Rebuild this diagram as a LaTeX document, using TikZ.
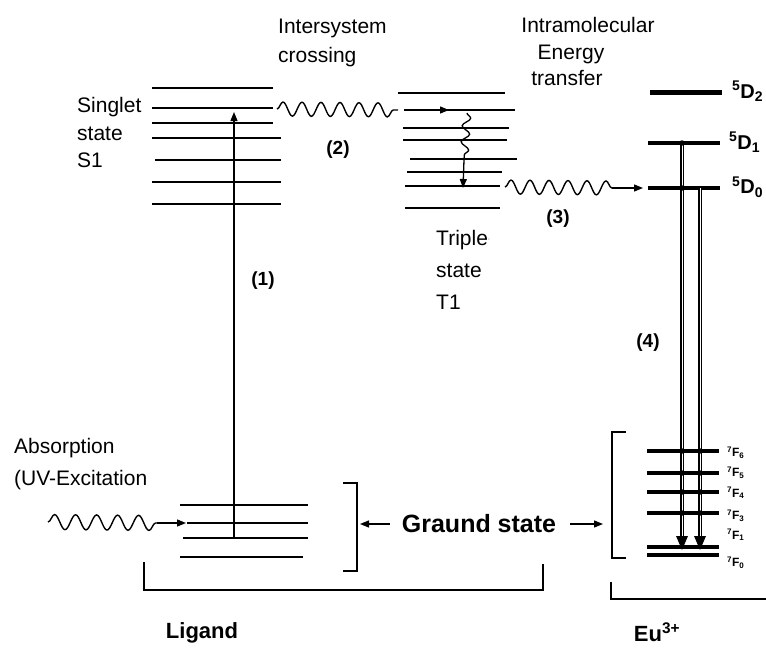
\documentclass[tikz,border=0pt]{standalone}
\usepackage{fontspec}
\setmainfont{Liberation Sans}
\usetikzlibrary{decorations.pathmorphing,arrows.meta}
\begin{document}
\begin{tikzpicture}[x=1pt,y=-1pt,
 lvl/.style={line width=1.6pt},
 eulvl/.style={line width=3.5pt},
 wave/.style={decorate,decoration={snake,amplitude=7pt,segment length=19pt},line width=1.4pt},
 vwave/.style={decorate,decoration={snake,amplitude=4pt,segment length=16pt},line width=1.3pt},
 arr/.style={line width=1.3pt,-{Triangle[length=9pt,width=7pt]}},
 lbl/.style={font=\fontsize{21}{24}\selectfont,inner sep=0,anchor=base west},
 blbl/.style={font=\bfseries\fontsize{19}{22}\selectfont,inner sep=0},
 dlbl/.style={font=\bfseries\fontsize{20}{24}\selectfont,inner sep=0,anchor=west},
 flbl/.style={font=\bfseries\fontsize{12}{13}\selectfont,inner sep=0,anchor=west},
 brk/.style={line width=1.5pt},
 vert/.style={line width=1.1pt,double,double distance=0.9pt},
 dot/.style={circle,fill,inner sep=0,minimum size=5.5pt}
]
\useasboundingbox (0,0) rectangle (766,656);

% ---------- singlet levels
\foreach \y/\a/\b in {88/152/273,108/152/273,123/152/273,138/152/281,160/155/281,182/152/281,204/152/281}
  \draw[lvl] (\a,\y) -- (\b,\y);
% ---------- triplet levels
\foreach \y/\a/\b in {93/398/505,110/408/515,128/403/509,140/403/507,159/410/517,172/407/502,186/405/500,208/405/500}
  \draw[lvl] (\a,\y) -- (\b,\y);
% ---------- ligand ground levels
\foreach \y/\a/\b in {505/180/308,523/187/308,538/183/308,557/180/303}
  \draw[lvl] (\a,\y) -- (\b,\y);

% ---------- Eu levels
\draw[line width=5pt] (650,92) -- (722,92);
\draw[line width=4pt] (648,143) -- (720,143);
\draw[eulvl] (648,188) -- (720,188);
\foreach \y in {451,473,492,513,547,555}
  \draw[eulvl] (647,\y) -- (719,\y);

% ---------- connector coordinates
\coordinate (gA) at (234,538);  \coordinate (sA) at (234,112);
\coordinate (w2s) at (277,109); \coordinate (w2e) at (398,110);
\coordinate (t2a) at (404,110); \coordinate (t2b) at (449,110);
\coordinate (tv1) at (467,113); \coordinate (tv2) at (464,160); \coordinate (tv3) at (463,188);
\coordinate (w3s) at (505,187); \coordinate (w3e) at (612,188); \coordinate (d0) at (643,188);
\coordinate (ab1) at (48,522);  \coordinate (ab2) at (157,523); \coordinate (ab3) at (186,523);
\coordinate (eA1) at (682,143); \coordinate (eA2) at (682,538);
\coordinate (eB1) at (700,188); \coordinate (eB2) at (700,538);
\coordinate (gsL) at (390,524); \coordinate (gsLe) at (360,524);
\coordinate (gsR) at (570,524); \coordinate (gsRe) at (603,524);

% (1)
\draw[arr] (gA) -- (sA);
% (2)
\draw[wave] (w2s) -- (w2e);
\draw[arr] (t2a) -- (t2b);
\draw[vwave] (tv1) -- (tv2);
\draw[arr] (tv2) -- (tv3);
% (3)
\draw[wave] (w3s) -- (w3e);
\draw[arr] (w3e) -- (d0);
% absorption
\draw[wave,decoration={snake,amplitude=7.5pt,segment length=21pt}] (ab1) -- (ab2);
\draw[arr] (ab2) -- (ab3);
% (4)
\draw[vert] (eA1) -- (eA2);
\draw[vert] (eB1) -- (eB2);
\fill (676,536) -- (688,536) -- (682,550) -- cycle;
\fill (694,536) -- (706,536) -- (700,550) -- cycle;
\node[dot] at (682,143) {};
\node[dot] at (682,188) {};
\foreach \y in {451,473,492,513} {
  \node[dot] at (682,\y) {};
  \node[dot] at (700,\y) {};
}

% ---------- brackets
\draw[brk] (343,483) -- (357,483) -- (357,571) -- (343,571);
\draw[brk] (626,432) -- (612,432) -- (612,558) -- (626,558);
\draw[brk] (144,562) -- (144,590) -- (543,590) -- (543,564);
\draw[brk] (611,582) -- (611,599) -- (766,599);

% ground state
\node[blbl,font=\bfseries\fontsize{25}{28}\selectfont] (gs) at (479,524) {Graund state};
\draw[arr] (gsL) -- (gsLe);
\draw[arr] (gsR) -- (gsRe);

% ---------- texts
\node[lbl] (t1) at (278,33) {Intersystem};
\node[lbl] (t2) at (278,62) {crossing};
\node[lbl,anchor=base] (t3) at (588,32) {Intramolecular};
\node[lbl,anchor=base] (t4) at (571,59) {Energy};
\node[lbl,anchor=base] (t5) at (567,85) {transfer};
\node[lbl] (t6) at (77,112) {Singlet};
\node[lbl] (t7) at (77,140) {state};
\node[lbl] (t8) at (77,167) {S1};
\node[lbl] (t9) at (436,245) {Triple\raisebox{0.3ex}{\fontsize{8}{8}\selectfont$\cdot$}};
\node[lbl] (t10) at (436,277) {state};
\node[lbl] (t11) at (436,309) {T1};
\node[lbl] (t12) at (14,453) {Absorption};
\node[lbl] (t13) at (14,485) {(UV-Excitation};

\node[blbl] (n1) at (263,281) {(1)};
\node[blbl] (n2) at (338,150) {(2)};
\node[blbl] (n3) at (558,219) {(3)};
\node[blbl] (n4) at (648,343) {(4)};

\node[blbl,font=\bfseries\fontsize{22}{26}\selectfont] (lig) at (202,633) {Ligand};
\node[blbl,font=\bfseries\fontsize{22}{26}\selectfont] (eu) at (657,632) {Eu\textsuperscript{3+}};

% Eu level labels
\node[dlbl] (D2) at (732,91) {\textsuperscript{5}D\textsubscript{2}};
\node[dlbl] (D1) at (729,142) {\textsuperscript{5}D\textsubscript{1}};
\node[dlbl] (D0) at (732,187) {\textsuperscript{5}D\textsubscript{0}};
\node[flbl] (F6) at (727,453) {\textsuperscript{7}F\textsubscript{6}};
\node[flbl] (F5) at (727,473) {\textsuperscript{7}F\textsubscript{5}};
\node[flbl] (F4) at (727,493) {\textsuperscript{7}F\textsubscript{4}};
\node[flbl] (F3) at (727,516) {\textsuperscript{7}F\textsubscript{3}};
\node[flbl] (F1) at (727,535) {\textsuperscript{7}F\textsubscript{1}};
\node[flbl] (F0) at (727,563) {\textsuperscript{7}F\textsubscript{0}};
\end{tikzpicture}
\end{document}
